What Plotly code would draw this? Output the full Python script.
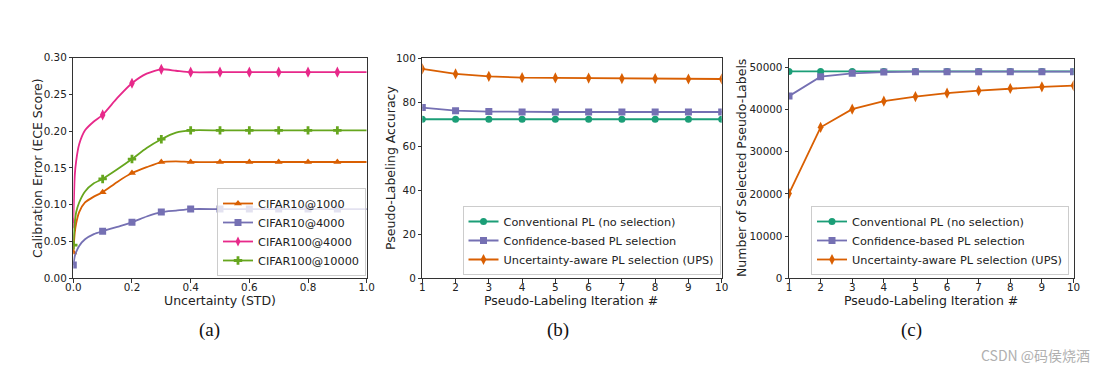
import plotly.graph_objects as go

# ---------------- data ----------------
# Panel (a): calibration error vs uncertainty threshold
unc_x = [0.0, 0.005, 0.01, 0.02, 0.04, 0.07, 0.1, 0.15, 0.2, 0.25, 0.3, 0.35,
         0.4, 0.5, 0.6, 0.7, 0.8, 0.9, 1.0]
cifar10_1000 = [0.035, 0.062, 0.075, 0.090, 0.103, 0.111, 0.117, 0.131, 0.143,
                0.151, 0.158, 0.159, 0.158, 0.158, 0.158, 0.158, 0.158, 0.158, 0.158]
cifar10_4000 = [0.018, 0.030, 0.036, 0.044, 0.053, 0.060, 0.064, 0.070, 0.076,
                0.084, 0.090, 0.092, 0.094, 0.094, 0.094, 0.094, 0.094, 0.094, 0.094]
cifar100_4000 = [0.075, 0.140, 0.160, 0.182, 0.201, 0.213, 0.222, 0.245, 0.265,
                 0.278, 0.284, 0.282, 0.280, 0.280, 0.280, 0.280, 0.280, 0.280, 0.280]
cifar100_10000 = [0.045, 0.075, 0.090, 0.103, 0.118, 0.129, 0.135, 0.148, 0.162,
                  0.177, 0.189, 0.198, 0.201, 0.201, 0.201, 0.201, 0.201, 0.201, 0.201]
marker_x_a = [0.0, 0.1, 0.2, 0.3, 0.4, 0.5, 0.6, 0.7, 0.8, 0.9]

# Panels (b), (c): pseudo-labeling iterations
iters = [1, 2, 3, 4, 5, 6, 7, 8, 9, 10]
acc_conventional = [72.3, 72.3, 72.3, 72.3, 72.3, 72.3, 72.3, 72.3, 72.3, 72.3]
acc_confidence = [77.6, 76.2, 75.8, 75.6, 75.6, 75.6, 75.6, 75.6, 75.6, 75.6]
acc_ups = [95.2, 92.9, 91.8, 91.2, 91.1, 91.0, 90.8, 90.8, 90.6, 90.6]

num_conventional = [49050, 49050, 49050, 49050, 49050, 49050, 49050, 49050, 49050, 49050]
num_confidence = [43200, 47800, 48600, 48900, 49000, 49000, 49000, 49000, 49000, 49000]
num_ups = [20100, 35800, 40100, 42000, 43100, 43900, 44500, 45000, 45400, 45700]

labels_a = ["CIFAR10@1000", "CIFAR10@4000", "CIFAR100@4000", "CIFAR100@10000"]
labels_bc = ["Conventional PL (no selection)", "Confidence-based PL selection",
             "Uncertainty-aware PL selection (UPS)"]
xtitle_a = "Uncertainty (STD)"
ytitle_a = "Calibration Error (ECE Score)"
xtitle_bc = "Pseudo-Labeling Iteration #"
ytitle_b = "Pseudo-Labeling Accuracy"
ytitle_c = "Number of Selected Pseudo-Labels"

# ---------------- style ----------------
C_ORANGE = "#d95f02"
C_PURPLE = "#7570b3"
C_PINK = "#e7298a"
C_GREEN = "#66a61e"
C_TEAL = "#1b9e77"
FONT = "DejaVu Sans"
TXT = "#222222"
LW = 1.8
MS = 7

fig = go.Figure()

# ---- panel (a) ----
series_a = [
    (labels_a[0], cifar10_1000, C_ORANGE, "triangle-up"),
    (labels_a[1], cifar10_4000, C_PURPLE, "square"),
    (labels_a[2], cifar100_4000, C_PINK, "diamond-tall"),
    (labels_a[3], cifar100_10000, C_GREEN, "cross"),
]
for name, ys, col, sym in series_a:
    fig.add_trace(go.Scatter(x=unc_x, y=ys, mode="lines",
                             line=dict(color=col, width=LW, shape="spline", smoothing=0.6),
                             showlegend=False, xaxis="x", yaxis="y", hoverinfo="skip"))
    mx = [x for x in unc_x if round(x, 3) in marker_x_a]
    my = [y for x, y in zip(unc_x, ys) if round(x, 3) in marker_x_a]
    fig.add_trace(go.Scatter(x=mx, y=my, mode="markers",
                             marker=dict(color=col, symbol=sym, size=MS + (1 if sym == "diamond-tall" else 0)),
                             showlegend=False, xaxis="x", yaxis="y"))
for name, ys, col, sym in series_a:
    fig.add_trace(go.Scatter(x=[None], y=[None], mode="lines+markers", name=name,
                             line=dict(color=col, width=LW),
                             marker=dict(color=col, symbol=sym, size=MS),
                             legend="legend", xaxis="x", yaxis="y"))

# ---- panels (b) and (c) ----
series_b = [
    (labels_bc[0], acc_conventional, C_TEAL, "circle"),
    (labels_bc[1], acc_confidence, C_PURPLE, "square"),
    (labels_bc[2], acc_ups, C_ORANGE, "diamond-tall"),
]
series_c = [
    (labels_bc[0], num_conventional, C_TEAL, "circle"),
    (labels_bc[1], num_confidence, C_PURPLE, "square"),
    (labels_bc[2], num_ups, C_ORANGE, "diamond-tall"),
]
for (series, xa, ya, lg) in [(series_b, "x2", "y2", "legend2"), (series_c, "x3", "y3", "legend3")]:
    for name, ys, col, sym in series:
        fig.add_trace(go.Scatter(x=iters, y=ys, mode="lines+markers", name=name,
                                 line=dict(color=col, width=LW),
                                 marker=dict(color=col, symbol=sym, size=MS + (1 if sym == "diamond-tall" else 0)),
                                 legend=lg, xaxis=xa, yaxis=ya))

# ---------------- layout ----------------
# page has an 8px body margin: figure is offset by OFF px, so size it to fit the window
W, H, OFF = 1103, 372, 8
FW, FH = W - OFF, H - OFF
def fx(px):
    return (px - OFF) / FW
def fy(py):
    return (FH - (py - OFF)) / FH

axis_common = dict(showline=True, mirror=True, linecolor="#333333", linewidth=0.9,
                   ticks="outside", ticklen=3.5, tickwidth=0.9, tickcolor="#333333",
                   showgrid=False, zeroline=False, automargin=False,
                   tickfont=dict(family=FONT, size=10.4, color=TXT))
xaxis_common = dict(axis_common, ticklabelstandoff=-4)

fig.update_layout(
    width=FW, height=FH, margin=dict(l=0, r=0, t=0, b=0),
    paper_bgcolor="white", plot_bgcolor="white",
    showlegend=True,
    xaxis=dict(domain=[fx(73.3), fx(366.7)], anchor="y", range=[0, 1.0],
               tickvals=[0, 0.2, 0.4, 0.6, 0.8, 1.0], tickformat=".1f", **xaxis_common),
    yaxis=dict(domain=[fy(278.3), fy(57.5)], anchor="x", range=[0, 0.30],
               tickvals=[0, 0.05, 0.10, 0.15, 0.20, 0.25, 0.30], tickformat=".2f",
               **axis_common),
    xaxis2=dict(domain=[fx(422.3), fx(721.7)], anchor="y2", range=[1, 10],
                tickvals=iters, **xaxis_common),
    yaxis2=dict(domain=[fy(278.3), fy(58.3)], anchor="x2", range=[0, 100],
                tickvals=[0, 20, 40, 60, 80, 100], **axis_common),
    xaxis3=dict(domain=[fx(789), fx(1073.5)], anchor="y3", range=[1, 10],
                tickvals=iters, **xaxis_common),
    yaxis3=dict(domain=[fy(278.3), fy(59)], anchor="x3", range=[0, 52000],
                tickvals=[0, 10000, 20000, 30000, 40000, 50000], tickformat="d",
                **axis_common),
)

legend_common = dict(bgcolor="rgba(255,255,255,0.8)", bordercolor="#cccccc", borderwidth=1,
                     font=dict(family=FONT, size=11.3, color=TXT),
                     xanchor="right", yanchor="bottom", tracegroupgap=0,
                     itemwidth=30)
fig.update_layout(
    legend=dict(x=fx(366), y=fy(276), **legend_common),
    legend2=dict(x=fx(720.5), y=fy(275), **legend_common),
    legend3=dict(x=fx(1069), y=fy(275), **legend_common),
)

# axis titles
title_font = dict(family=FONT, size=12.5, color=TXT)
for txt, cx, cy, ang in [(xtitle_a, 220, 300, 0), (xtitle_bc, 571, 300, 0), (xtitle_bc, 931, 300, 0),
                         (ytitle_a, 37, 168, -90), (ytitle_b, 390, 168, -90), (ytitle_c, 741, 168, -90)]:
    fig.add_annotation(text=txt, x=fx(cx), y=fy(cy), xref="paper", yref="paper",
                       showarrow=False, xanchor="center", yanchor="middle", textangle=ang,
                       font=title_font)

# panel captions and watermark
for txt, cx in [("(a)", 209), ("(b)", 558), ("(c)", 911)]:
    fig.add_annotation(text=txt, x=fx(cx), y=fy(330), xref="paper", yref="paper",
                       showarrow=False, xanchor="center", yanchor="middle",
                       font=dict(family="Liberation Serif", size=19, color="#111111"))
fig.add_annotation(text="CSDN @码侯烧酒", x=fx(1092), y=fy(355), xref="paper", yref="paper",
                   showarrow=False, xanchor="right", yanchor="middle",
                   font=dict(family="Noto Sans CJK SC", size=14, color="#b0b0b0"))

fig.write_html("out.html")
